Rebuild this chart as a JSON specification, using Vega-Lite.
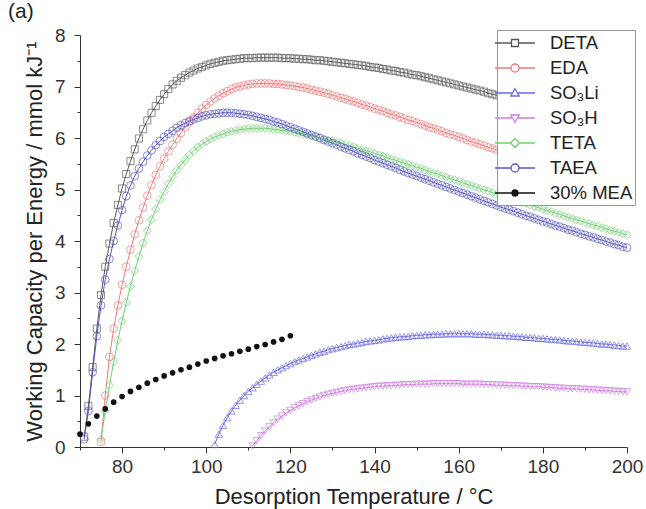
{
"$schema":"https://vega.github.io/schema/vega-lite/v6.json",
"width":547,"height":412,
"autosize":"none",
"padding":{"left":80,"top":35,"right":19,"bottom":62},
"background":"white",
"title":{"text":"(a)","anchor":"start","frame":"group","dx":-72,"offset":4,"fontSize":21,"fontWeight":"normal","font":"Liberation Sans","color":"#222"},
"config":{"view":{"stroke":null},
"legend":{"orient":"none","legendX":417,"legendY":-5,"fillColor":"white","strokeColor":"#999","padding":2,"rowPadding":4,"symbolOffset":5,"labelOffset":24,"labelFontSize":18.5,"labelFont":"Liberation Sans","labelColor":"#222","symbolSize":400,"symbolStrokeWidth":1.3,"symbolFillColor":"transparent"}},
"datasets":{"c":[
{"s":"DETA","t":71,"v":0.2},{"s":"DETA","t":72,"v":0.8},{"s":"DETA","t":73,"v":1.55},{"s":"DETA","t":74,"v":2.3},{"s":"DETA","t":75,"v":2.95},{"s":"DETA","t":76,"v":3.5},{"s":"DETA","t":77,"v":3.95},{"s":"DETA","t":78,"v":4.35},{"s":"DETA","t":79,"v":4.7},{"s":"DETA","t":80,"v":5.02},
{"s":"DETA","t":81,"v":5.3},{"s":"DETA","t":82,"v":5.55},{"s":"DETA","t":83,"v":5.78},{"s":"DETA","t":84,"v":5.99},{"s":"DETA","t":85,"v":6.17},{"s":"DETA","t":86,"v":6.34},{"s":"DETA","t":87,"v":6.49},{"s":"DETA","t":88,"v":6.62},{"s":"DETA","t":89,"v":6.74},{"s":"DETA","t":90,"v":6.85},
{"s":"DETA","t":91,"v":6.95},{"s":"DETA","t":92,"v":7.04},{"s":"DETA","t":93,"v":7.11},{"s":"DETA","t":94,"v":7.17},{"s":"DETA","t":95,"v":7.22},{"s":"DETA","t":96,"v":7.27},{"s":"DETA","t":97,"v":7.31},{"s":"DETA","t":98,"v":7.35},{"s":"DETA","t":99,"v":7.38},{"s":"DETA","t":100,"v":7.41},
{"s":"DETA","t":101,"v":7.44},{"s":"DETA","t":102,"v":7.46},{"s":"DETA","t":103,"v":7.48},{"s":"DETA","t":104,"v":7.5},{"s":"DETA","t":105,"v":7.51},{"s":"DETA","t":106,"v":7.52},{"s":"DETA","t":107,"v":7.53},{"s":"DETA","t":108,"v":7.54},{"s":"DETA","t":109,"v":7.55},{"s":"DETA","t":110,"v":7.55},
{"s":"DETA","t":111,"v":7.55},{"s":"DETA","t":112,"v":7.56},{"s":"DETA","t":113,"v":7.56},{"s":"DETA","t":114,"v":7.56},{"s":"DETA","t":115,"v":7.56},{"s":"DETA","t":116,"v":7.56},{"s":"DETA","t":117,"v":7.56},{"s":"DETA","t":118,"v":7.55},{"s":"DETA","t":119,"v":7.55},{"s":"DETA","t":120,"v":7.55},
{"s":"DETA","t":121,"v":7.54},{"s":"DETA","t":122,"v":7.54},{"s":"DETA","t":123,"v":7.53},{"s":"DETA","t":124,"v":7.53},{"s":"DETA","t":125,"v":7.52},{"s":"DETA","t":126,"v":7.51},{"s":"DETA","t":127,"v":7.51},{"s":"DETA","t":128,"v":7.5},{"s":"DETA","t":129,"v":7.49},{"s":"DETA","t":130,"v":7.48},
{"s":"DETA","t":131,"v":7.47},{"s":"DETA","t":132,"v":7.46},{"s":"DETA","t":133,"v":7.45},{"s":"DETA","t":134,"v":7.44},{"s":"DETA","t":135,"v":7.43},{"s":"DETA","t":136,"v":7.42},{"s":"DETA","t":137,"v":7.41},{"s":"DETA","t":138,"v":7.4},{"s":"DETA","t":139,"v":7.38},{"s":"DETA","t":140,"v":7.37},
{"s":"DETA","t":141,"v":7.36},{"s":"DETA","t":142,"v":7.34},{"s":"DETA","t":143,"v":7.33},{"s":"DETA","t":144,"v":7.31},{"s":"DETA","t":145,"v":7.3},{"s":"DETA","t":146,"v":7.28},{"s":"DETA","t":147,"v":7.27},{"s":"DETA","t":148,"v":7.25},{"s":"DETA","t":149,"v":7.23},{"s":"DETA","t":150,"v":7.22},
{"s":"DETA","t":151,"v":7.2},{"s":"DETA","t":152,"v":7.18},{"s":"DETA","t":153,"v":7.16},{"s":"DETA","t":154,"v":7.14},{"s":"DETA","t":155,"v":7.12},{"s":"DETA","t":156,"v":7.1},{"s":"DETA","t":157,"v":7.08},{"s":"DETA","t":158,"v":7.06},{"s":"DETA","t":159,"v":7.04},{"s":"DETA","t":160,"v":7.02},
{"s":"DETA","t":161,"v":7.0},{"s":"DETA","t":162,"v":6.98},{"s":"DETA","t":163,"v":6.96},{"s":"DETA","t":164,"v":6.94},{"s":"DETA","t":165,"v":6.92},{"s":"DETA","t":166,"v":6.9},{"s":"DETA","t":167,"v":6.87},{"s":"DETA","t":168,"v":6.85},{"s":"DETA","t":169,"v":6.83},{"s":"DETA","t":170,"v":6.81},
{"s":"DETA","t":171,"v":6.79},{"s":"DETA","t":172,"v":6.77},{"s":"DETA","t":173,"v":6.74},{"s":"DETA","t":174,"v":6.72},{"s":"DETA","t":175,"v":6.7},{"s":"DETA","t":176,"v":6.67},{"s":"DETA","t":177,"v":6.65},{"s":"DETA","t":178,"v":6.63},{"s":"DETA","t":179,"v":6.6},{"s":"DETA","t":180,"v":6.58},
{"s":"DETA","t":181,"v":6.55},{"s":"DETA","t":182,"v":6.53},{"s":"DETA","t":183,"v":6.51},{"s":"DETA","t":184,"v":6.48},{"s":"DETA","t":185,"v":6.46},{"s":"DETA","t":186,"v":6.43},{"s":"DETA","t":187,"v":6.41},{"s":"DETA","t":188,"v":6.39},{"s":"DETA","t":189,"v":6.36},{"s":"DETA","t":190,"v":6.34},
{"s":"DETA","t":191,"v":6.31},{"s":"DETA","t":192,"v":6.29},{"s":"DETA","t":193,"v":6.27},{"s":"DETA","t":194,"v":6.24},{"s":"DETA","t":195,"v":6.22},{"s":"DETA","t":196,"v":6.2},{"s":"DETA","t":197,"v":6.17},{"s":"DETA","t":198,"v":6.15},{"s":"DETA","t":199,"v":6.13},{"s":"DETA","t":200,"v":6.1},
{"s":"EDA","t":75,"v":0.1},{"s":"EDA","t":76,"v":1.0},{"s":"EDA","t":77,"v":1.75},{"s":"EDA","t":78,"v":2.3},{"s":"EDA","t":79,"v":2.75},{"s":"EDA","t":80,"v":3.15},
{"s":"EDA","t":81,"v":3.5},{"s":"EDA","t":82,"v":3.83},{"s":"EDA","t":83,"v":4.13},{"s":"EDA","t":84,"v":4.4},{"s":"EDA","t":85,"v":4.65},{"s":"EDA","t":86,"v":4.88},{"s":"EDA","t":87,"v":5.09},{"s":"EDA","t":88,"v":5.28},{"s":"EDA","t":89,"v":5.45},{"s":"EDA","t":90,"v":5.6},
{"s":"EDA","t":91,"v":5.74},{"s":"EDA","t":92,"v":5.87},{"s":"EDA","t":93,"v":5.99},{"s":"EDA","t":94,"v":6.1},{"s":"EDA","t":95,"v":6.21},{"s":"EDA","t":96,"v":6.31},{"s":"EDA","t":97,"v":6.4},{"s":"EDA","t":98,"v":6.49},{"s":"EDA","t":99,"v":6.57},{"s":"EDA","t":100,"v":6.64},
{"s":"EDA","t":101,"v":6.71},{"s":"EDA","t":102,"v":6.77},{"s":"EDA","t":103,"v":6.82},{"s":"EDA","t":104,"v":6.87},{"s":"EDA","t":105,"v":6.91},{"s":"EDA","t":106,"v":6.95},{"s":"EDA","t":107,"v":6.98},{"s":"EDA","t":108,"v":7.0},{"s":"EDA","t":109,"v":7.02},{"s":"EDA","t":110,"v":7.04},
{"s":"EDA","t":111,"v":7.05},{"s":"EDA","t":112,"v":7.06},{"s":"EDA","t":113,"v":7.06},{"s":"EDA","t":114,"v":7.06},{"s":"EDA","t":115,"v":7.06},{"s":"EDA","t":116,"v":7.05},{"s":"EDA","t":117,"v":7.05},{"s":"EDA","t":118,"v":7.04},{"s":"EDA","t":119,"v":7.03},{"s":"EDA","t":120,"v":7.02},
{"s":"EDA","t":121,"v":7.01},{"s":"EDA","t":122,"v":6.99},{"s":"EDA","t":123,"v":6.98},{"s":"EDA","t":124,"v":6.96},{"s":"EDA","t":125,"v":6.94},{"s":"EDA","t":126,"v":6.92},{"s":"EDA","t":127,"v":6.9},{"s":"EDA","t":128,"v":6.88},{"s":"EDA","t":129,"v":6.86},{"s":"EDA","t":130,"v":6.83},
{"s":"EDA","t":131,"v":6.81},{"s":"EDA","t":132,"v":6.78},{"s":"EDA","t":133,"v":6.76},{"s":"EDA","t":134,"v":6.73},{"s":"EDA","t":135,"v":6.71},{"s":"EDA","t":136,"v":6.68},{"s":"EDA","t":137,"v":6.65},{"s":"EDA","t":138,"v":6.63},{"s":"EDA","t":139,"v":6.6},{"s":"EDA","t":140,"v":6.57},
{"s":"EDA","t":141,"v":6.55},{"s":"EDA","t":142,"v":6.52},{"s":"EDA","t":143,"v":6.49},{"s":"EDA","t":144,"v":6.46},{"s":"EDA","t":145,"v":6.44},{"s":"EDA","t":146,"v":6.41},{"s":"EDA","t":147,"v":6.38},{"s":"EDA","t":148,"v":6.35},{"s":"EDA","t":149,"v":6.33},{"s":"EDA","t":150,"v":6.3},
{"s":"EDA","t":151,"v":6.27},{"s":"EDA","t":152,"v":6.24},{"s":"EDA","t":153,"v":6.21},{"s":"EDA","t":154,"v":6.19},{"s":"EDA","t":155,"v":6.16},{"s":"EDA","t":156,"v":6.13},{"s":"EDA","t":157,"v":6.1},{"s":"EDA","t":158,"v":6.07},{"s":"EDA","t":159,"v":6.05},{"s":"EDA","t":160,"v":6.02},
{"s":"EDA","t":161,"v":5.99},{"s":"EDA","t":162,"v":5.96},{"s":"EDA","t":163,"v":5.93},{"s":"EDA","t":164,"v":5.91},{"s":"EDA","t":165,"v":5.88},{"s":"EDA","t":166,"v":5.85},{"s":"EDA","t":167,"v":5.82},{"s":"EDA","t":168,"v":5.8},{"s":"EDA","t":169,"v":5.77},{"s":"EDA","t":170,"v":5.74},
{"s":"EDA","t":171,"v":5.71},{"s":"EDA","t":172,"v":5.69},{"s":"EDA","t":173,"v":5.66},{"s":"EDA","t":174,"v":5.63},{"s":"EDA","t":175,"v":5.61},{"s":"EDA","t":176,"v":5.58},{"s":"EDA","t":177,"v":5.55},{"s":"EDA","t":178,"v":5.53},{"s":"EDA","t":179,"v":5.5},{"s":"EDA","t":180,"v":5.47},
{"s":"EDA","t":181,"v":5.45},{"s":"EDA","t":182,"v":5.42},{"s":"EDA","t":183,"v":5.4},{"s":"EDA","t":184,"v":5.37},{"s":"EDA","t":185,"v":5.35},{"s":"EDA","t":186,"v":5.32},{"s":"EDA","t":187,"v":5.3},{"s":"EDA","t":188,"v":5.27},{"s":"EDA","t":189,"v":5.25},{"s":"EDA","t":190,"v":5.22},
{"s":"EDA","t":191,"v":5.2},{"s":"EDA","t":192,"v":5.17},{"s":"EDA","t":193,"v":5.15},{"s":"EDA","t":194,"v":5.13},{"s":"EDA","t":195,"v":5.1},{"s":"EDA","t":196,"v":5.08},{"s":"EDA","t":197,"v":5.06},{"s":"EDA","t":198,"v":5.03},{"s":"EDA","t":199,"v":5.01},{"s":"EDA","t":200,"v":4.99},
{"s":"TAEA","t":71,"v":0.15},{"s":"TAEA","t":72,"v":0.7},{"s":"TAEA","t":73,"v":1.45},{"s":"TAEA","t":74,"v":2.15},{"s":"TAEA","t":75,"v":2.75},{"s":"TAEA","t":76,"v":3.25},{"s":"TAEA","t":77,"v":3.65},{"s":"TAEA","t":78,"v":4.0},{"s":"TAEA","t":79,"v":4.3},{"s":"TAEA","t":80,"v":4.6},
{"s":"TAEA","t":81,"v":4.87},{"s":"TAEA","t":82,"v":5.08},{"s":"TAEA","t":83,"v":5.26},{"s":"TAEA","t":84,"v":5.41},{"s":"TAEA","t":85,"v":5.54},{"s":"TAEA","t":86,"v":5.66},{"s":"TAEA","t":87,"v":5.76},{"s":"TAEA","t":88,"v":5.86},{"s":"TAEA","t":89,"v":5.94},{"s":"TAEA","t":90,"v":6.02},
{"s":"TAEA","t":91,"v":6.08},{"s":"TAEA","t":92,"v":6.14},{"s":"TAEA","t":93,"v":6.2},{"s":"TAEA","t":94,"v":6.25},{"s":"TAEA","t":95,"v":6.29},{"s":"TAEA","t":96,"v":6.33},{"s":"TAEA","t":97,"v":6.36},{"s":"TAEA","t":98,"v":6.39},{"s":"TAEA","t":99,"v":6.42},{"s":"TAEA","t":100,"v":6.44},
{"s":"TAEA","t":101,"v":6.46},{"s":"TAEA","t":102,"v":6.47},{"s":"TAEA","t":103,"v":6.48},{"s":"TAEA","t":104,"v":6.49},{"s":"TAEA","t":105,"v":6.49},{"s":"TAEA","t":106,"v":6.49},{"s":"TAEA","t":107,"v":6.48},{"s":"TAEA","t":108,"v":6.47},{"s":"TAEA","t":109,"v":6.46},{"s":"TAEA","t":110,"v":6.45},
{"s":"TAEA","t":111,"v":6.43},{"s":"TAEA","t":112,"v":6.41},{"s":"TAEA","t":113,"v":6.39},{"s":"TAEA","t":114,"v":6.37},{"s":"TAEA","t":115,"v":6.35},{"s":"TAEA","t":116,"v":6.32},{"s":"TAEA","t":117,"v":6.3},{"s":"TAEA","t":118,"v":6.27},{"s":"TAEA","t":119,"v":6.24},{"s":"TAEA","t":120,"v":6.21},
{"s":"TAEA","t":121,"v":6.18},{"s":"TAEA","t":122,"v":6.15},{"s":"TAEA","t":123,"v":6.12},{"s":"TAEA","t":124,"v":6.09},{"s":"TAEA","t":125,"v":6.06},{"s":"TAEA","t":126,"v":6.03},{"s":"TAEA","t":127,"v":6.0},{"s":"TAEA","t":128,"v":5.96},{"s":"TAEA","t":129,"v":5.93},{"s":"TAEA","t":130,"v":5.9},
{"s":"TAEA","t":131,"v":5.87},{"s":"TAEA","t":132,"v":5.83},{"s":"TAEA","t":133,"v":5.8},{"s":"TAEA","t":134,"v":5.77},{"s":"TAEA","t":135,"v":5.74},{"s":"TAEA","t":136,"v":5.7},{"s":"TAEA","t":137,"v":5.67},{"s":"TAEA","t":138,"v":5.64},{"s":"TAEA","t":139,"v":5.61},{"s":"TAEA","t":140,"v":5.57},
{"s":"TAEA","t":141,"v":5.54},{"s":"TAEA","t":142,"v":5.51},{"s":"TAEA","t":143,"v":5.48},{"s":"TAEA","t":144,"v":5.45},{"s":"TAEA","t":145,"v":5.42},{"s":"TAEA","t":146,"v":5.38},{"s":"TAEA","t":147,"v":5.35},{"s":"TAEA","t":148,"v":5.32},{"s":"TAEA","t":149,"v":5.29},{"s":"TAEA","t":150,"v":5.26},
{"s":"TAEA","t":151,"v":5.23},{"s":"TAEA","t":152,"v":5.2},{"s":"TAEA","t":153,"v":5.17},{"s":"TAEA","t":154,"v":5.14},{"s":"TAEA","t":155,"v":5.11},{"s":"TAEA","t":156,"v":5.08},{"s":"TAEA","t":157,"v":5.05},{"s":"TAEA","t":158,"v":5.02},{"s":"TAEA","t":159,"v":4.99},{"s":"TAEA","t":160,"v":4.96},
{"s":"TAEA","t":161,"v":4.93},{"s":"TAEA","t":162,"v":4.9},{"s":"TAEA","t":163,"v":4.87},{"s":"TAEA","t":164,"v":4.84},{"s":"TAEA","t":165,"v":4.81},{"s":"TAEA","t":166,"v":4.78},{"s":"TAEA","t":167,"v":4.75},{"s":"TAEA","t":168,"v":4.72},{"s":"TAEA","t":169,"v":4.69},{"s":"TAEA","t":170,"v":4.66},
{"s":"TAEA","t":171,"v":4.63},{"s":"TAEA","t":172,"v":4.61},{"s":"TAEA","t":173,"v":4.58},{"s":"TAEA","t":174,"v":4.55},{"s":"TAEA","t":175,"v":4.52},{"s":"TAEA","t":176,"v":4.49},{"s":"TAEA","t":177,"v":4.47},{"s":"TAEA","t":178,"v":4.44},{"s":"TAEA","t":179,"v":4.41},{"s":"TAEA","t":180,"v":4.38},
{"s":"TAEA","t":181,"v":4.36},{"s":"TAEA","t":182,"v":4.33},{"s":"TAEA","t":183,"v":4.3},{"s":"TAEA","t":184,"v":4.28},{"s":"TAEA","t":185,"v":4.25},{"s":"TAEA","t":186,"v":4.22},{"s":"TAEA","t":187,"v":4.2},{"s":"TAEA","t":188,"v":4.17},{"s":"TAEA","t":189,"v":4.14},{"s":"TAEA","t":190,"v":4.12},
{"s":"TAEA","t":191,"v":4.09},{"s":"TAEA","t":192,"v":4.07},{"s":"TAEA","t":193,"v":4.04},{"s":"TAEA","t":194,"v":4.02},{"s":"TAEA","t":195,"v":3.99},{"s":"TAEA","t":196,"v":3.97},{"s":"TAEA","t":197,"v":3.94},{"s":"TAEA","t":198,"v":3.92},{"s":"TAEA","t":199,"v":3.89},{"s":"TAEA","t":200,"v":3.87},
{"s":"TETA","t":75,"v":0.15},{"s":"TETA","t":76,"v":0.7},{"s":"TETA","t":77,"v":1.2},{"s":"TETA","t":78,"v":1.65},{"s":"TETA","t":79,"v":2.07},{"s":"TETA","t":80,"v":2.45},
{"s":"TETA","t":81,"v":2.8},{"s":"TETA","t":82,"v":3.12},{"s":"TETA","t":83,"v":3.42},{"s":"TETA","t":84,"v":3.7},{"s":"TETA","t":85,"v":3.96},{"s":"TETA","t":86,"v":4.2},{"s":"TETA","t":87,"v":4.42},{"s":"TETA","t":88,"v":4.62},{"s":"TETA","t":89,"v":4.8},{"s":"TETA","t":90,"v":4.96},
{"s":"TETA","t":91,"v":5.11},{"s":"TETA","t":92,"v":5.25},{"s":"TETA","t":93,"v":5.37},{"s":"TETA","t":94,"v":5.48},{"s":"TETA","t":95,"v":5.58},{"s":"TETA","t":96,"v":5.67},{"s":"TETA","t":97,"v":5.75},{"s":"TETA","t":98,"v":5.82},{"s":"TETA","t":99,"v":5.88},{"s":"TETA","t":100,"v":5.93},
{"s":"TETA","t":101,"v":5.98},{"s":"TETA","t":102,"v":6.02},{"s":"TETA","t":103,"v":6.05},{"s":"TETA","t":104,"v":6.08},{"s":"TETA","t":105,"v":6.11},{"s":"TETA","t":106,"v":6.13},{"s":"TETA","t":107,"v":6.15},{"s":"TETA","t":108,"v":6.16},{"s":"TETA","t":109,"v":6.17},{"s":"TETA","t":110,"v":6.18},
{"s":"TETA","t":111,"v":6.19},{"s":"TETA","t":112,"v":6.19},{"s":"TETA","t":113,"v":6.19},{"s":"TETA","t":114,"v":6.19},{"s":"TETA","t":115,"v":6.18},{"s":"TETA","t":116,"v":6.17},{"s":"TETA","t":117,"v":6.16},{"s":"TETA","t":118,"v":6.15},{"s":"TETA","t":119,"v":6.14},{"s":"TETA","t":120,"v":6.13},
{"s":"TETA","t":121,"v":6.11},{"s":"TETA","t":122,"v":6.1},{"s":"TETA","t":123,"v":6.08},{"s":"TETA","t":124,"v":6.06},{"s":"TETA","t":125,"v":6.04},{"s":"TETA","t":126,"v":6.02},{"s":"TETA","t":127,"v":6.0},{"s":"TETA","t":128,"v":5.98},{"s":"TETA","t":129,"v":5.96},{"s":"TETA","t":130,"v":5.94},
{"s":"TETA","t":131,"v":5.92},{"s":"TETA","t":132,"v":5.9},{"s":"TETA","t":133,"v":5.87},{"s":"TETA","t":134,"v":5.85},{"s":"TETA","t":135,"v":5.83},{"s":"TETA","t":136,"v":5.8},{"s":"TETA","t":137,"v":5.78},{"s":"TETA","t":138,"v":5.75},{"s":"TETA","t":139,"v":5.73},{"s":"TETA","t":140,"v":5.7},
{"s":"TETA","t":141,"v":5.67},{"s":"TETA","t":142,"v":5.65},{"s":"TETA","t":143,"v":5.62},{"s":"TETA","t":144,"v":5.59},{"s":"TETA","t":145,"v":5.57},{"s":"TETA","t":146,"v":5.54},{"s":"TETA","t":147,"v":5.51},{"s":"TETA","t":148,"v":5.49},{"s":"TETA","t":149,"v":5.46},{"s":"TETA","t":150,"v":5.43},
{"s":"TETA","t":151,"v":5.41},{"s":"TETA","t":152,"v":5.38},{"s":"TETA","t":153,"v":5.35},{"s":"TETA","t":154,"v":5.32},{"s":"TETA","t":155,"v":5.3},{"s":"TETA","t":156,"v":5.27},{"s":"TETA","t":157,"v":5.24},{"s":"TETA","t":158,"v":5.21},{"s":"TETA","t":159,"v":5.19},{"s":"TETA","t":160,"v":5.16},
{"s":"TETA","t":161,"v":5.13},{"s":"TETA","t":162,"v":5.1},{"s":"TETA","t":163,"v":5.08},{"s":"TETA","t":164,"v":5.05},{"s":"TETA","t":165,"v":5.02},{"s":"TETA","t":166,"v":4.99},{"s":"TETA","t":167,"v":4.97},{"s":"TETA","t":168,"v":4.94},{"s":"TETA","t":169,"v":4.91},{"s":"TETA","t":170,"v":4.89},
{"s":"TETA","t":171,"v":4.86},{"s":"TETA","t":172,"v":4.83},{"s":"TETA","t":173,"v":4.81},{"s":"TETA","t":174,"v":4.78},{"s":"TETA","t":175,"v":4.75},{"s":"TETA","t":176,"v":4.73},{"s":"TETA","t":177,"v":4.7},{"s":"TETA","t":178,"v":4.67},{"s":"TETA","t":179,"v":4.65},{"s":"TETA","t":180,"v":4.62},
{"s":"TETA","t":181,"v":4.59},{"s":"TETA","t":182,"v":4.57},{"s":"TETA","t":183,"v":4.54},{"s":"TETA","t":184,"v":4.52},{"s":"TETA","t":185,"v":4.49},{"s":"TETA","t":186,"v":4.46},{"s":"TETA","t":187,"v":4.44},{"s":"TETA","t":188,"v":4.41},{"s":"TETA","t":189,"v":4.39},{"s":"TETA","t":190,"v":4.36},
{"s":"TETA","t":191,"v":4.34},{"s":"TETA","t":192,"v":4.31},{"s":"TETA","t":193,"v":4.29},{"s":"TETA","t":194,"v":4.26},{"s":"TETA","t":195,"v":4.24},{"s":"TETA","t":196,"v":4.21},{"s":"TETA","t":197,"v":4.19},{"s":"TETA","t":198,"v":4.17},{"s":"TETA","t":199,"v":4.14},{"s":"TETA","t":200,"v":4.12},
{"s":"SO₃Li","t":102,"v":0.05},{"s":"SO₃Li","t":103,"v":0.25},{"s":"SO₃Li","t":104,"v":0.42},{"s":"SO₃Li","t":105,"v":0.57},{"s":"SO₃Li","t":106,"v":0.7},{"s":"SO₃Li","t":107,"v":0.81},{"s":"SO₃Li","t":108,"v":0.91},{"s":"SO₃Li","t":109,"v":1.0},{"s":"SO₃Li","t":110,"v":1.08},
{"s":"SO₃Li","t":111,"v":1.15},{"s":"SO₃Li","t":112,"v":1.22},{"s":"SO₃Li","t":113,"v":1.28},{"s":"SO₃Li","t":114,"v":1.34},{"s":"SO₃Li","t":115,"v":1.4},{"s":"SO₃Li","t":116,"v":1.45},{"s":"SO₃Li","t":117,"v":1.5},{"s":"SO₃Li","t":118,"v":1.54},{"s":"SO₃Li","t":119,"v":1.58},{"s":"SO₃Li","t":120,"v":1.62},
{"s":"SO₃Li","t":121,"v":1.66},{"s":"SO₃Li","t":122,"v":1.69},{"s":"SO₃Li","t":123,"v":1.72},{"s":"SO₃Li","t":124,"v":1.75},{"s":"SO₃Li","t":125,"v":1.78},{"s":"SO₃Li","t":126,"v":1.81},{"s":"SO₃Li","t":127,"v":1.84},{"s":"SO₃Li","t":128,"v":1.86},{"s":"SO₃Li","t":129,"v":1.89},{"s":"SO₃Li","t":130,"v":1.91},
{"s":"SO₃Li","t":131,"v":1.93},{"s":"SO₃Li","t":132,"v":1.95},{"s":"SO₃Li","t":133,"v":1.97},{"s":"SO₃Li","t":134,"v":1.99},{"s":"SO₃Li","t":135,"v":2.0},{"s":"SO₃Li","t":136,"v":2.02},{"s":"SO₃Li","t":137,"v":2.03},{"s":"SO₃Li","t":138,"v":2.05},{"s":"SO₃Li","t":139,"v":2.06},{"s":"SO₃Li","t":140,"v":2.07},
{"s":"SO₃Li","t":141,"v":2.08},{"s":"SO₃Li","t":142,"v":2.1},{"s":"SO₃Li","t":143,"v":2.11},{"s":"SO₃Li","t":144,"v":2.12},{"s":"SO₃Li","t":145,"v":2.13},{"s":"SO₃Li","t":146,"v":2.14},{"s":"SO₃Li","t":147,"v":2.14},{"s":"SO₃Li","t":148,"v":2.15},{"s":"SO₃Li","t":149,"v":2.16},{"s":"SO₃Li","t":150,"v":2.17},
{"s":"SO₃Li","t":151,"v":2.17},{"s":"SO₃Li","t":152,"v":2.18},{"s":"SO₃Li","t":153,"v":2.18},{"s":"SO₃Li","t":154,"v":2.19},{"s":"SO₃Li","t":155,"v":2.19},{"s":"SO₃Li","t":156,"v":2.19},{"s":"SO₃Li","t":157,"v":2.2},{"s":"SO₃Li","t":158,"v":2.2},{"s":"SO₃Li","t":159,"v":2.2},{"s":"SO₃Li","t":160,"v":2.2},
{"s":"SO₃Li","t":161,"v":2.2},{"s":"SO₃Li","t":162,"v":2.2},{"s":"SO₃Li","t":163,"v":2.2},{"s":"SO₃Li","t":164,"v":2.19},{"s":"SO₃Li","t":165,"v":2.19},{"s":"SO₃Li","t":166,"v":2.19},{"s":"SO₃Li","t":167,"v":2.18},{"s":"SO₃Li","t":168,"v":2.18},{"s":"SO₃Li","t":169,"v":2.17},{"s":"SO₃Li","t":170,"v":2.17},
{"s":"SO₃Li","t":171,"v":2.16},{"s":"SO₃Li","t":172,"v":2.16},{"s":"SO₃Li","t":173,"v":2.15},{"s":"SO₃Li","t":174,"v":2.15},{"s":"SO₃Li","t":175,"v":2.14},{"s":"SO₃Li","t":176,"v":2.13},{"s":"SO₃Li","t":177,"v":2.13},{"s":"SO₃Li","t":178,"v":2.12},{"s":"SO₃Li","t":179,"v":2.11},{"s":"SO₃Li","t":180,"v":2.11},
{"s":"SO₃Li","t":181,"v":2.1},{"s":"SO₃Li","t":182,"v":2.09},{"s":"SO₃Li","t":183,"v":2.09},{"s":"SO₃Li","t":184,"v":2.08},{"s":"SO₃Li","t":185,"v":2.07},{"s":"SO₃Li","t":186,"v":2.06},{"s":"SO₃Li","t":187,"v":2.06},{"s":"SO₃Li","t":188,"v":2.05},{"s":"SO₃Li","t":189,"v":2.04},{"s":"SO₃Li","t":190,"v":2.03},
{"s":"SO₃Li","t":191,"v":2.03},{"s":"SO₃Li","t":192,"v":2.02},{"s":"SO₃Li","t":193,"v":2.01},{"s":"SO₃Li","t":194,"v":2.0},{"s":"SO₃Li","t":195,"v":2.0},{"s":"SO₃Li","t":196,"v":1.99},{"s":"SO₃Li","t":197,"v":1.98},{"s":"SO₃Li","t":198,"v":1.97},{"s":"SO₃Li","t":199,"v":1.96},{"s":"SO₃Li","t":200,"v":1.96},
{"s":"SO₃H","t":111,"v":0.02},{"s":"SO₃H","t":112,"v":0.12},{"s":"SO₃H","t":113,"v":0.22},{"s":"SO₃H","t":114,"v":0.31},{"s":"SO₃H","t":115,"v":0.39},{"s":"SO₃H","t":116,"v":0.47},{"s":"SO₃H","t":117,"v":0.54},{"s":"SO₃H","t":118,"v":0.6},{"s":"SO₃H","t":119,"v":0.66},{"s":"SO₃H","t":120,"v":0.71},
{"s":"SO₃H","t":121,"v":0.76},{"s":"SO₃H","t":122,"v":0.8},{"s":"SO₃H","t":123,"v":0.84},{"s":"SO₃H","t":124,"v":0.88},{"s":"SO₃H","t":125,"v":0.91},{"s":"SO₃H","t":126,"v":0.94},{"s":"SO₃H","t":127,"v":0.97},{"s":"SO₃H","t":128,"v":1.0},{"s":"SO₃H","t":129,"v":1.02},{"s":"SO₃H","t":130,"v":1.04},
{"s":"SO₃H","t":131,"v":1.06},{"s":"SO₃H","t":132,"v":1.08},{"s":"SO₃H","t":133,"v":1.09},{"s":"SO₃H","t":134,"v":1.11},{"s":"SO₃H","t":135,"v":1.12},{"s":"SO₃H","t":136,"v":1.13},{"s":"SO₃H","t":137,"v":1.14},{"s":"SO₃H","t":138,"v":1.15},{"s":"SO₃H","t":139,"v":1.16},{"s":"SO₃H","t":140,"v":1.17},
{"s":"SO₃H","t":141,"v":1.18},{"s":"SO₃H","t":142,"v":1.18},{"s":"SO₃H","t":143,"v":1.19},{"s":"SO₃H","t":144,"v":1.19},{"s":"SO₃H","t":145,"v":1.2},{"s":"SO₃H","t":146,"v":1.2},{"s":"SO₃H","t":147,"v":1.21},{"s":"SO₃H","t":148,"v":1.21},{"s":"SO₃H","t":149,"v":1.21},{"s":"SO₃H","t":150,"v":1.22},
{"s":"SO₃H","t":151,"v":1.22},{"s":"SO₃H","t":152,"v":1.22},{"s":"SO₃H","t":153,"v":1.22},{"s":"SO₃H","t":154,"v":1.23},{"s":"SO₃H","t":155,"v":1.23},{"s":"SO₃H","t":156,"v":1.23},{"s":"SO₃H","t":157,"v":1.23},{"s":"SO₃H","t":158,"v":1.23},{"s":"SO₃H","t":159,"v":1.23},{"s":"SO₃H","t":160,"v":1.23},
{"s":"SO₃H","t":161,"v":1.22},{"s":"SO₃H","t":162,"v":1.22},{"s":"SO₃H","t":163,"v":1.22},{"s":"SO₃H","t":164,"v":1.22},{"s":"SO₃H","t":165,"v":1.22},{"s":"SO₃H","t":166,"v":1.21},{"s":"SO₃H","t":167,"v":1.21},{"s":"SO₃H","t":168,"v":1.21},{"s":"SO₃H","t":169,"v":1.2},{"s":"SO₃H","t":170,"v":1.2},
{"s":"SO₃H","t":171,"v":1.2},{"s":"SO₃H","t":172,"v":1.19},{"s":"SO₃H","t":173,"v":1.19},{"s":"SO₃H","t":174,"v":1.19},{"s":"SO₃H","t":175,"v":1.18},{"s":"SO₃H","t":176,"v":1.18},{"s":"SO₃H","t":177,"v":1.17},{"s":"SO₃H","t":178,"v":1.17},{"s":"SO₃H","t":179,"v":1.17},{"s":"SO₃H","t":180,"v":1.16},
{"s":"SO₃H","t":181,"v":1.16},{"s":"SO₃H","t":182,"v":1.15},{"s":"SO₃H","t":183,"v":1.15},{"s":"SO₃H","t":184,"v":1.14},{"s":"SO₃H","t":185,"v":1.14},{"s":"SO₃H","t":186,"v":1.13},{"s":"SO₃H","t":187,"v":1.13},{"s":"SO₃H","t":188,"v":1.13},{"s":"SO₃H","t":189,"v":1.12},{"s":"SO₃H","t":190,"v":1.12},
{"s":"SO₃H","t":191,"v":1.11},{"s":"SO₃H","t":192,"v":1.11},{"s":"SO₃H","t":193,"v":1.1},{"s":"SO₃H","t":194,"v":1.1},{"s":"SO₃H","t":195,"v":1.09},{"s":"SO₃H","t":196,"v":1.09},{"s":"SO₃H","t":197,"v":1.08},{"s":"SO₃H","t":198,"v":1.08},{"s":"SO₃H","t":199,"v":1.07},{"s":"SO₃H","t":200,"v":1.07},
{"s":"30% MEA","t":70,"v":0.25},{"s":"30% MEA","t":72,"v":0.45},{"s":"30% MEA","t":74,"v":0.6},{"s":"30% MEA","t":76,"v":0.74},{"s":"30% MEA","t":78,"v":0.87},{"s":"30% MEA","t":80,"v":0.98},{"s":"30% MEA","t":82,"v":1.08},{"s":"30% MEA","t":84,"v":1.16},{"s":"30% MEA","t":86,"v":1.24},{"s":"30% MEA","t":88,"v":1.31},
{"s":"30% MEA","t":90,"v":1.38},{"s":"30% MEA","t":92,"v":1.44},{"s":"30% MEA","t":94,"v":1.5},{"s":"30% MEA","t":96,"v":1.55},{"s":"30% MEA","t":98,"v":1.61},{"s":"30% MEA","t":100,"v":1.67},{"s":"30% MEA","t":102,"v":1.72},{"s":"30% MEA","t":104,"v":1.77},{"s":"30% MEA","t":106,"v":1.81},{"s":"30% MEA","t":108,"v":1.86},
{"s":"30% MEA","t":110,"v":1.9},{"s":"30% MEA","t":112,"v":1.95},{"s":"30% MEA","t":114,"v":1.99},{"s":"30% MEA","t":116,"v":2.04},{"s":"30% MEA","t":118,"v":2.09},{"s":"30% MEA","t":120,"v":2.16}
]},
"data":{"name":"c"},
"encoding":{
"x":{"field":"t","type":"quantitative","scale":{"domain":[70,200],"nice":false,"zero":false},
"axis":{"title":"Desorption Temperature / °C","values":[70,80,90,100,110,120,130,140,150,160,170,180,190,200],"labelExpr":"datum.value % 20 == 0 ? format(datum.value, 'd') : ''","tickSize":{"condition":{"test":"datum.value % 20 == 0","value":6},"value":3},"grid":false,"labelFlush":false,"labelOverlap":false,"domainColor":"#333","tickColor":"#333","labelFont":"Liberation Sans","titleFont":"Liberation Sans","labelFontSize":19,"titleFontSize":22,"titleFontWeight":"normal","labelColor":"#333","titleColor":"#222","labelPadding":4,"titlePadding":10}},
"y":{"field":"v","type":"quantitative","scale":{"domain":[0,8],"nice":false},
"axis":{"title":"Working Capacity per Energy / mmol kJ⁻¹","values":[0,0.5,1,1.5,2,2.5,3,3.5,4,4.5,5,5.5,6,6.5,7,7.5,8],"labelExpr":"datum.value % 1 == 0 ? format(datum.value, 'd') : ''","tickSize":{"condition":{"test":"datum.value % 1 == 0","value":6},"value":3},"grid":false,"labelFlush":false,"labelOverlap":false,"domainColor":"#333","tickColor":"#333","labelFont":"Liberation Sans","titleFont":"Liberation Sans","labelFontSize":19,"titleFontSize":22,"titleFontWeight":"normal","labelColor":"#333","titleColor":"#222","labelPadding":9,"titlePadding":8}}
},
"layer":[
{"mark":{"type":"point","filled":false,"opacity":0},
 "encoding":{
  "color":{"field":"s","type":"nominal","scale":{"domain":["DETA","EDA","SO₃Li","SO₃H","TETA","TAEA","30% MEA"],"range":["#5a5a5a","#f07a7a","#6a6ae6","#cf7fe0","#6fcf6f","#5555c8","#111111"]},
   "legend":{"title":null,"symbolFillColor":"transparent","encode":{"symbols":{"update":{"opacity":{"value":1},"fill":{"value":"transparent"}}}}}},
  "shape":{"field":"s","type":"nominal","scale":{"domain":["DETA","EDA","SO₃Li","SO₃H","TETA","TAEA","30% MEA"],"range":[
   "M-2,0H-0.35M0.35,0H2M-0.35,-0.35H0.35V0.35H-0.35Z",
   "M-2,0H-0.4M0.4,0H2M-0.4,0A0.4,0.4,0,1,1,0.4,0A0.4,0.4,0,1,1,-0.4,0Z",
   "M-2,0H-0.3M0.3,0H2M0,-0.45L0.42,0.3H-0.42Z",
   "M-2,0H-0.3M0.3,0H2M0,0.45L0.42,-0.3H-0.42Z",
   "M-2,0H-0.45M0.45,0H2M0,-0.45L0.45,0L0,0.45L-0.45,0Z",
   "M-2,0H-0.4M0.4,0H2M-0.4,0A0.4,0.4,0,1,1,0.4,0A0.4,0.4,0,1,1,-0.4,0Z",
   "M-2,0H2M-0.3,0A0.3,0.3,0,1,1,0.3,0A0.3,0.3,0,1,1,-0.3,0M-0.18,0A0.18,0.18,0,1,1,0.18,0A0.18,0.18,0,1,1,-0.18,0M-0.07,0A0.07,0.07,0,1,1,0.07,0A0.07,0.07,0,1,1,-0.07,0"]},
   "legend":{"title":null,"symbolFillColor":"transparent","encode":{"symbols":{"update":{"opacity":{"value":1},"fill":{"value":"transparent"}}}}}}
 }},
{"transform":[{"filter":"datum.s !== '30% MEA'"}],
 "mark":{"type":"line","strokeWidth":1},
 "encoding":{"color":{"field":"s","type":"nominal","legend":null},"order":{"field":"t"}}},
{"transform":[{"filter":"datum.s === 'TETA'"}],
 "mark":{"type":"point","filled":false,"shape":"diamond","size":65,"strokeWidth":1},
 "encoding":{"color":{"field":"s","type":"nominal","legend":null}}},
{"transform":[{"filter":"datum.s === 'SO₃H'"}],
 "mark":{"type":"point","filled":false,"shape":"triangle-down","size":55,"strokeWidth":1},
 "encoding":{"color":{"field":"s","type":"nominal","legend":null}}},
{"transform":[{"filter":"datum.s === 'SO₃Li'"}],
 "mark":{"type":"point","filled":false,"shape":"triangle-up","size":55,"strokeWidth":1},
 "encoding":{"color":{"field":"s","type":"nominal","legend":null}}},
{"transform":[{"filter":"datum.s === 'EDA' || datum.s === 'TAEA'"}],
 "mark":{"type":"point","filled":false,"shape":"circle","size":60,"strokeWidth":1},
 "encoding":{"color":{"field":"s","type":"nominal","legend":null}}},
{"transform":[{"filter":"datum.s === 'DETA'"}],
 "mark":{"type":"point","filled":false,"shape":"square","size":50,"strokeWidth":1},
 "encoding":{"color":{"field":"s","type":"nominal","legend":null}}},
{"transform":[{"filter":"datum.s === '30% MEA'"}],
 "mark":{"type":"point","filled":true,"shape":"circle","size":32,"opacity":1,"color":"#111111"},
 "encoding":{}}
]
}
